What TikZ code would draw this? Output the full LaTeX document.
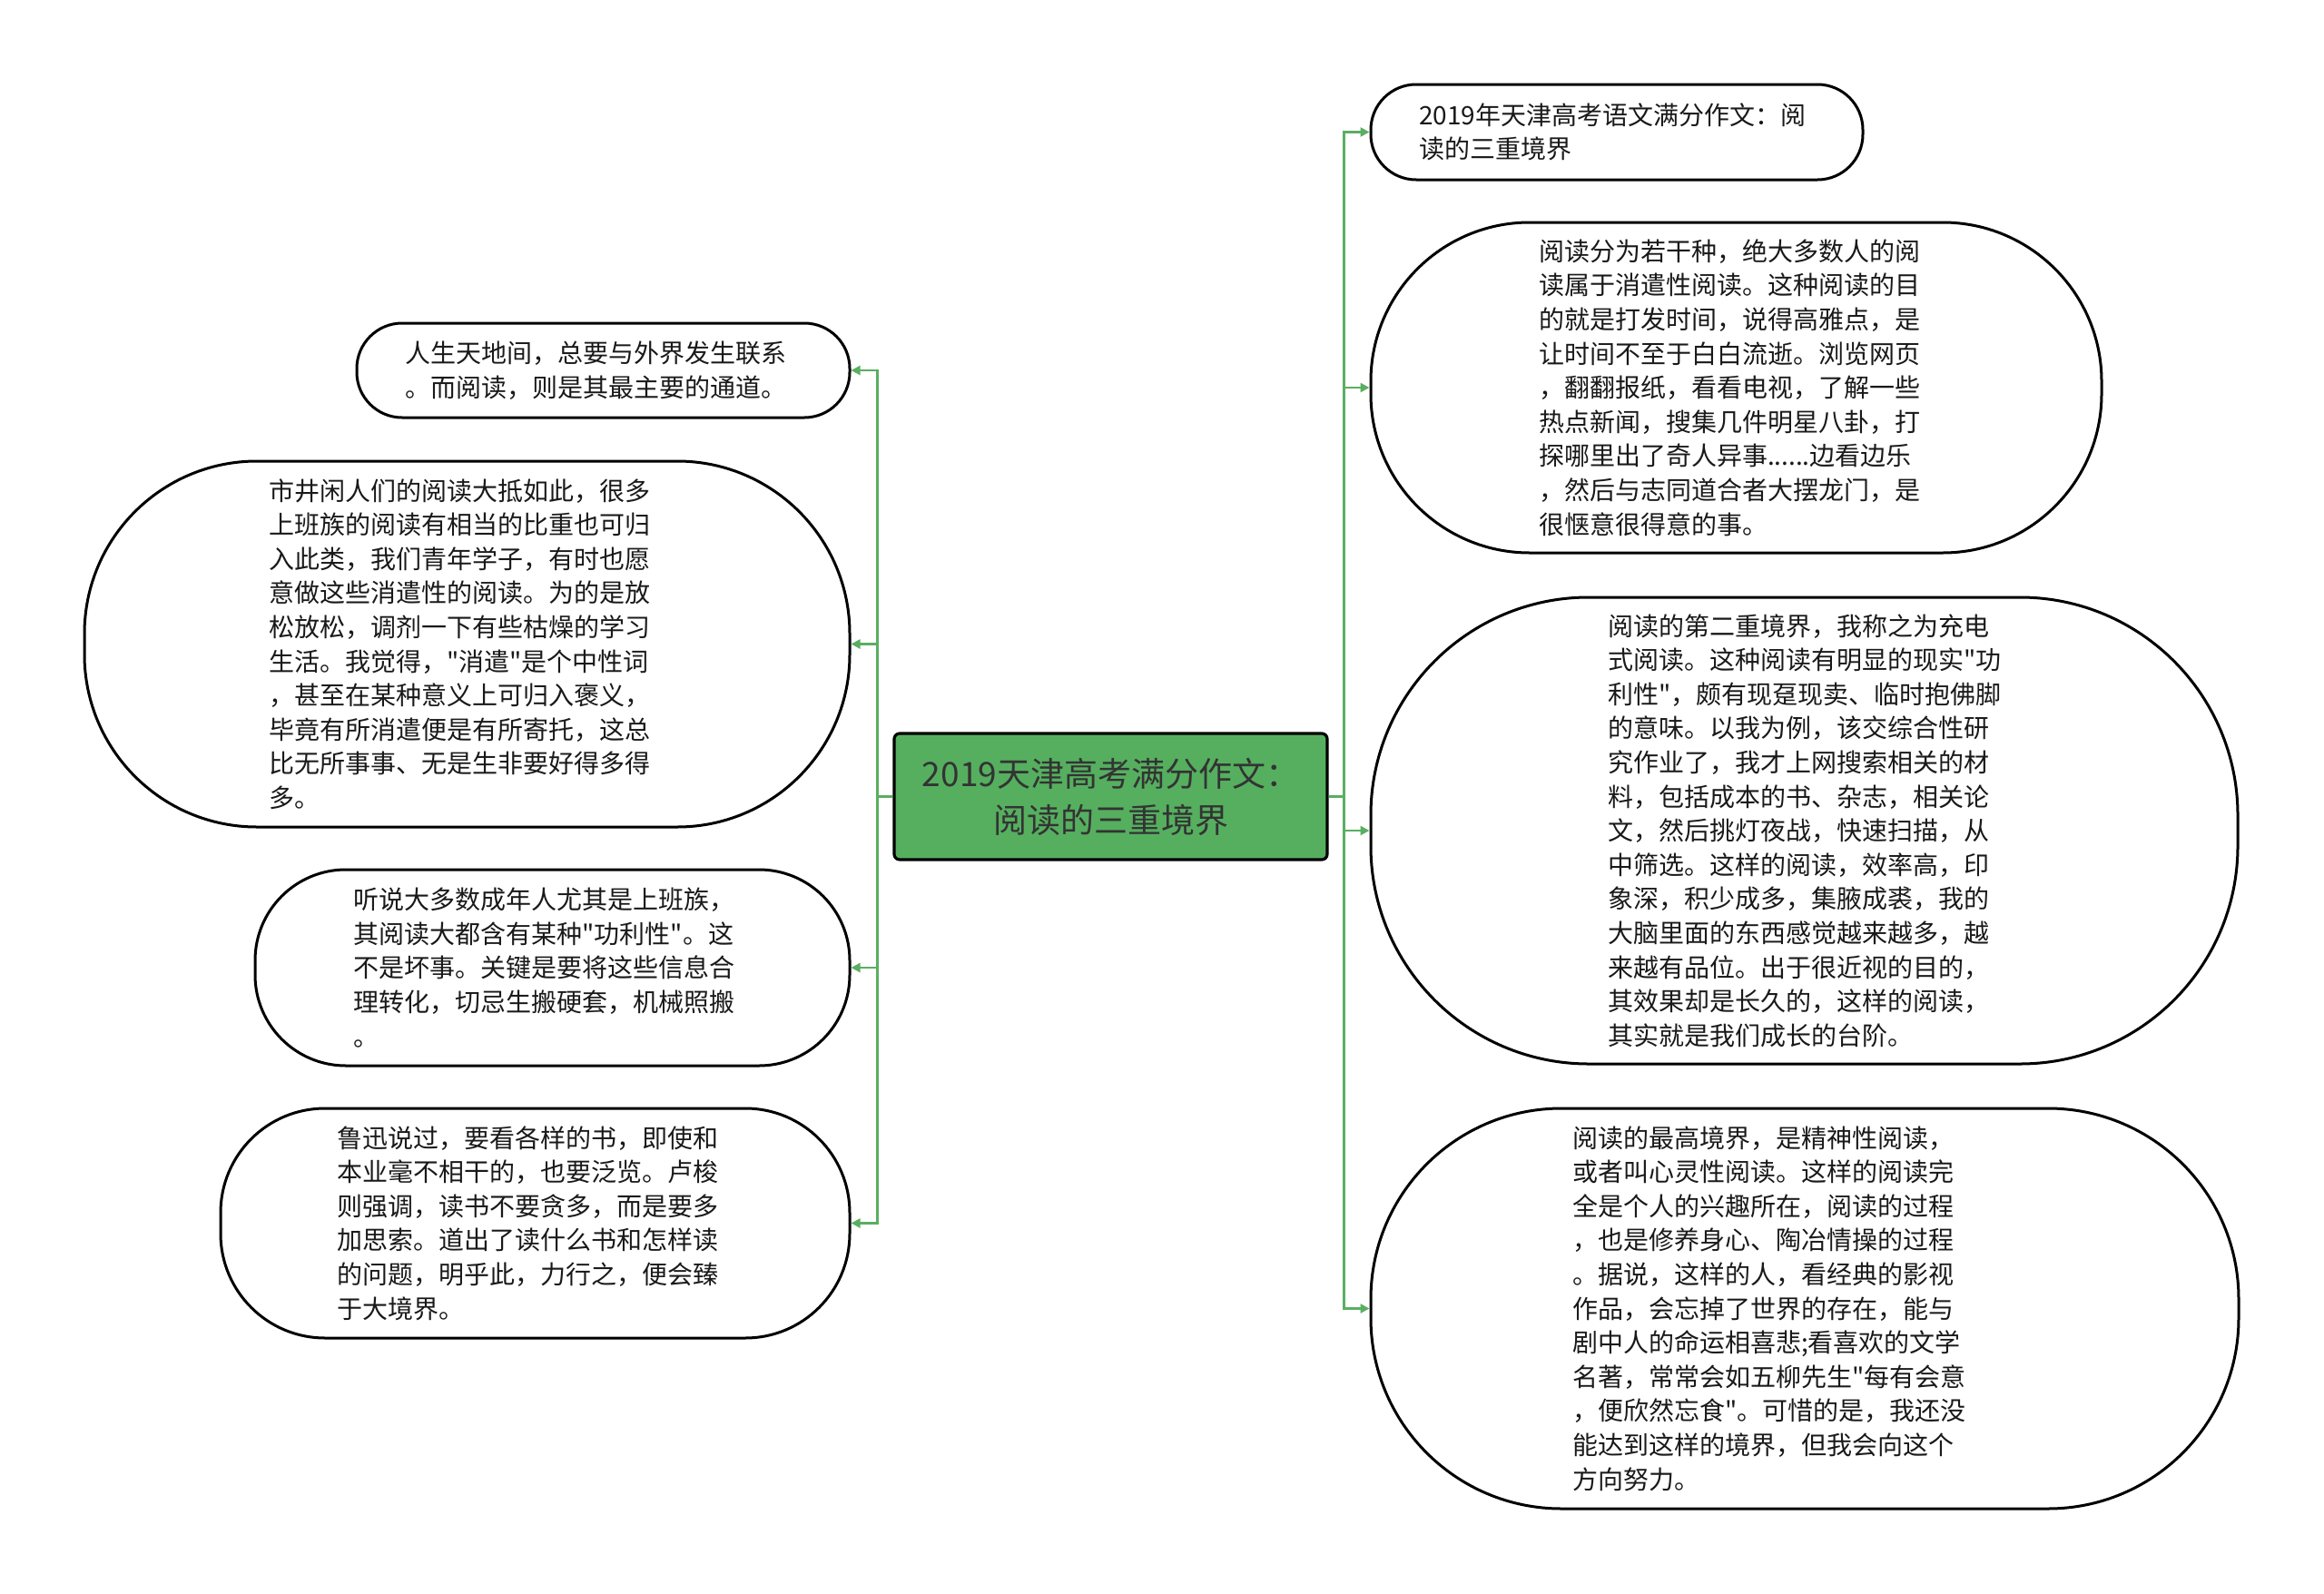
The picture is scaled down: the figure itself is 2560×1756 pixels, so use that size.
\documentclass[tikz,border=0pt]{standalone}
\usepackage{fontspec}
\setmainfont{Noto Sans CJK SC}[Ligatures=TeXOff]
\usepackage{tikz}
\usetikzlibrary{positioning, arrows.meta}
\definecolor{ramo}{HTML}{5AAE61}
\definecolor{radicefill}{HTML}{55AF5F}

\begin{document}
\begin{tikzpicture}[
        x=0.5pt, y=-0.5pt,
        foglia/.style={draw, line width=1.5pt, rectangle, align=left, inner sep=0pt, text=black!90,
            font=\fontsize{14pt}{18.8pt}\selectfont},
        radicebox/.style={draw, line width=1.6pt, rectangle, rounded corners=3pt, fill=radicefill,
            minimum width=238.5pt, minimum height=69.5pt, align=center, text=black!80,
            font=\fontsize{18.5pt}{25.5pt}\selectfont},
        freccia/.style={draw=ramo, line width=1.3pt, -{Triangle[length=5pt, width=5pt]}}
    ]
    \useasboundingbox (0,0) rectangle (2560,1756);

    % Nodo centrale
    \node[radicebox] (radice) at (1223.5, 877.5) {2019天津高考满分作文：\\阅读的三重境界};

    % Rami a sinistra
    \node[foglia, minimum width=271.5pt, minimum height=52pt, rounded corners=25pt, text width=218.5pt] (sx1) at (664.5, 408)
        {人生天地间，总要与外界发生联系\\。而阅读，则是其最主要的通道。};
    \node[foglia, minimum width=421.5pt, minimum height=201.5pt, rounded corners=95pt, text width=218.5pt] (sx2) at (514.5, 709.5)
        {市井闲人们的阅读大抵如此，很多\\上班族的阅读有相当的比重也可归\\入此类，我们青年学子，有时也愿\\意做这些消遣性的阅读。为的是放\\松放松，调剂一下有些枯燥的学习\\生活。我觉得，"消遣"是个中性词\\，甚至在某种意义上可归入褒义，\\毕竟有所消遣便是有所寄托，这总\\比无所事事、无是生非要好得多得\\多。};
    \node[foglia, minimum width=327.5pt, minimum height=108pt, rounded corners=50pt, text width=219pt] (sx3) at (608.5, 1066)
        {听说大多数成年人尤其是上班族，\\其阅读大都含有某种"功利性"。这\\不是坏事。关键是要将这些信息合\\理转化，切忌生搬硬套，机械照搬\\。};
    \node[foglia, minimum width=346.5pt, minimum height=126.5pt, rounded corners=57.5pt, text width=218.5pt] (sx4) at (589.5, 1347.5)
        {鲁迅说过，要看各样的书，即使和\\本业毫不相干的，也要泛览。卢梭\\则强调，读书不要贪多，而是要多\\加思索。道出了读什么书和怎样读\\的问题，明乎此，力行之，便会臻\\于大境界。};

    % Rami a destra
    \node[foglia, minimum width=271pt, minimum height=52.5pt, rounded corners=25pt, text width=218pt] (dx1) at (1781, 145.5)
        {2019年天津高考语文满分作文：阅\\读的三重境界};
    \node[foglia, minimum width=402.5pt, minimum height=182pt, rounded corners=87.5pt, text width=217.5pt] (dx2) at (1912.5, 427)
        {阅读分为若干种，绝大多数人的阅\\读属于消遣性阅读。这种阅读的目\\的就是打发时间，说得高雅点，是\\让时间不至于白白流逝。浏览网页\\，翻翻报纸，看看电视，了解一些\\热点新闻，搜集几件明星八卦，打\\探哪里出了奇人异事......边看边乐\\，然后与志同道合者大摆龙门，是\\很惬意很得意的事。};
    \node[foglia, minimum width=477.5pt, minimum height=257pt, rounded corners=120pt, text width=216.5pt] (dx3) at (1987.5, 915)
        {阅读的第二重境界，我称之为充电\\式阅读。这种阅读有明显的现实"功\\利性"，颇有现趸现卖、临时抱佛脚\\的意味。以我为例，该交综合性研\\究作业了，我才上网搜索相关的材\\料，包括成本的书、杂志，相关论\\文，然后挑灯夜战，快速扫描，从\\中筛选。这样的阅读，效率高，印\\象深，积少成多，集腋成裘，我的\\大脑里面的东西感觉越来越多，越\\来越有品位。出于很近视的目的，\\其效果却是长久的，这样的阅读，\\其实就是我们成长的台阶。};
    \node[foglia, minimum width=478pt, minimum height=220.5pt, rounded corners=105pt, text width=256pt] (dx4) at (1988, 1441.5)
        {阅读的最高境界，是精神性阅读，\\或者叫心灵性阅读。这样的阅读完\\全是个人的兴趣所在，阅读的过程\\，也是修养身心、陶冶情操的过程\\。据说，这样的人，看经典的影视\\作品，会忘掉了世界的存在，能与\\剧中人的命运相喜悲;看喜欢的文学\\名著，常常会如五柳先生"每有会意\\，便欣然忘食"。可惜的是，我还没\\能达到这样的境界，但我会向这个\\方向努力。};

    % Collegamenti a sinistra
    \draw[freccia] (radice.west) -- ++(-17,0) |- (sx1.east);
    \draw[freccia] (radice.west) -- ++(-17,0) |- (sx2.east);
    \draw[freccia] (radice.west) -- ++(-17,0) |- (sx3.east);
    \draw[freccia] (radice.west) -- ++(-17,0) |- (sx4.east);

    % Collegamenti a destra
    \draw[freccia] (radice.east) -- ++(17,0) |- (dx1.west);
    \draw[freccia] (radice.east) -- ++(17,0) |- (dx2.west);
    \draw[freccia] (radice.east) -- ++(17,0) |- (dx3.west);
    \draw[freccia] (radice.east) -- ++(17,0) |- (dx4.west);

\end{tikzpicture}
\end{document}
